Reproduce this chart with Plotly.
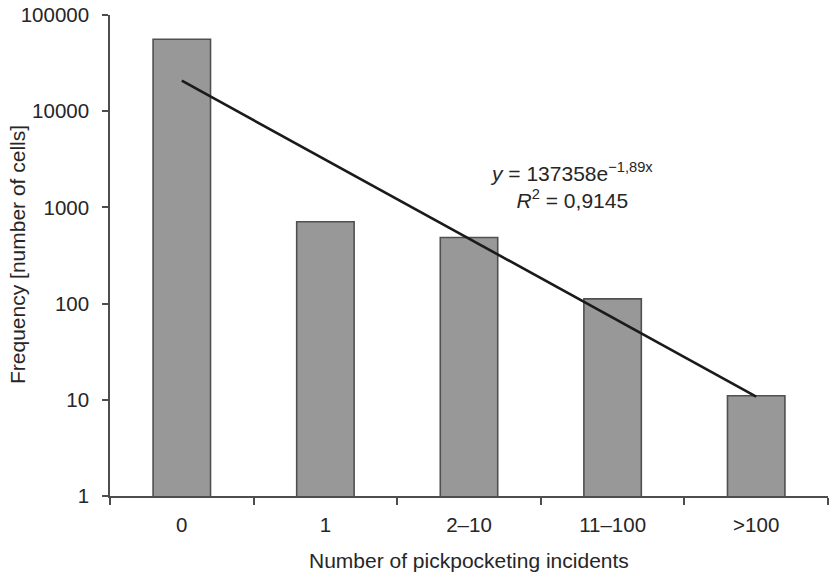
import plotly.graph_objects as go

categories = ["0", "1", "2–10", "11–100", ">100"]
frequencies = [56000, 710, 487, 112, 11]
trend_x = ["0", ">100"]
trend_values = [20740, 10.8]
y_tick_values = [1, 10, 100, 1000, 10000, 100000]
y_tick_labels = ["1", "10", "100", "1000", "10000", "100000"]

FONT = "Liberation Sans, Arial, Helvetica, sans-serif"
AXIS_COLOR = "#4d4d4d"
TEXT_COLOR = "#262626"

L, R, T, B = 110, 3, 15, 76
W, H = 831, 572
plot_w = W - L - R
plot_h = H - T - B


def px_x(x):
    return (x - L) / plot_w


def px_y(y):
    return (H - B - y) / plot_h


fig = go.Figure()
fig.add_trace(go.Bar(
    x=categories, y=frequencies,
    marker=dict(color="#989898", line=dict(color="#505050", width=1.6)),
    width=0.4, showlegend=False,
))
fig.add_trace(go.Scatter(
    x=trend_x, y=trend_values, mode="lines",
    line=dict(color="#1a1a1a", width=2.6), showlegend=False,
))

fig.add_annotation(
    x=px_x(571), y=px_y(186), xref="paper", yref="paper", showarrow=False,
    xanchor="center", yanchor="middle",
    text="<i>y</i> = 137358e<sup>−1,89x</sup><br><i>R</i><sup>2</sup> = 0,9145",
    align="center", font=dict(family=FONT, size=21, color=TEXT_COLOR),
)
fig.add_annotation(
    x=px_x(469), y=px_y(560), xref="paper", yref="paper", showarrow=False,
    xanchor="center", yanchor="middle",
    text="Number of pickpocketing incidents",
    font=dict(family=FONT, size=21, color=TEXT_COLOR),
)
fig.add_annotation(
    x=px_x(17), y=px_y(255), xref="paper", yref="paper", showarrow=False,
    xanchor="center", yanchor="middle",
    text="Frequency [number of cells]", textangle=-90,
    font=dict(family=FONT, size=21, color=TEXT_COLOR),
)

fig.update_layout(
    width=W, height=H,
    margin=dict(l=L, r=R, t=T, b=B),
    plot_bgcolor="white", paper_bgcolor="white",
    font=dict(family=FONT, size=20, color=TEXT_COLOR),
    xaxis=dict(
        type="category", tickson="boundaries", automargin=False,
        ticks="outside", ticklen=7, tickwidth=1.6, tickcolor=AXIS_COLOR,
        showline=True, linecolor=AXIS_COLOR, linewidth=1.6,
        showgrid=False, zeroline=False,
        tickfont=dict(size=20.5), ticklabelstandoff=10,
    ),
    yaxis=dict(
        type="log", range=[0, 5], automargin=False,
        tickvals=y_tick_values, ticktext=y_tick_labels,
        ticks="outside", ticklen=6, tickwidth=1.6, tickcolor=AXIS_COLOR,
        showline=True, linecolor=AXIS_COLOR, linewidth=1.6,
        showgrid=False, zeroline=False,
        tickfont=dict(size=20.5), ticklabelstandoff=9,
    ),
)

fig.write_html(
    "out.html",
    config={"displayModeBar": False},
    post_script="document.body.style.margin='0px';",
)
